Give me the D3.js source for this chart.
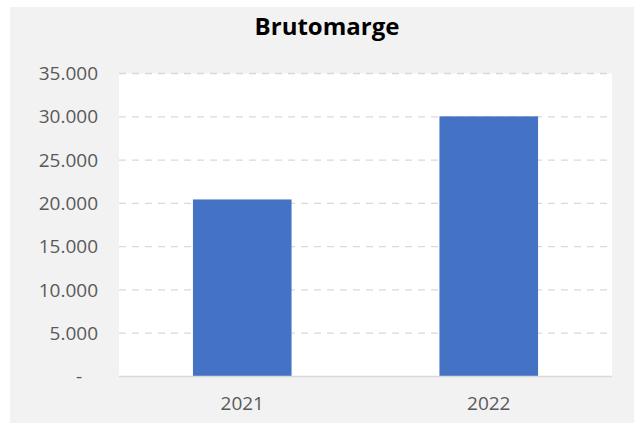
<!DOCTYPE html>
<meta charset="utf-8" />
<script src="https://d3js.org/d3.v7.min.js"></script>
<style>
  body { margin: 0; background: #fff; }
  text { font-family: "Open Sans", sans-serif; }
</style>
<div id="chart"></div>
<script>
  // data
  const years = ["2021", "2022"];
  const brutomarge = [20450, 30050];
  const yTicks = [0, 5000, 10000, 15000, 20000, 25000, 30000, 35000];

  const W = 644, H = 423;
  const plot = { left: 119, right: 612, top: 73.5, bottom: 376.5 };

  const svg = d3.select("#chart").append("svg")
    .attr("width", W).attr("height", H);

  // grey chart area
  svg.append("rect")
    .attr("x", 10).attr("y", 7)
    .attr("width", 624).attr("height", 416)
    .attr("fill", "#f2f2f2");

  // white plot area
  svg.append("rect")
    .attr("x", plot.left).attr("y", plot.top)
    .attr("width", plot.right - plot.left).attr("height", plot.bottom - plot.top)
    .attr("fill", "#fff");

  var x = d3.scaleBand()
    .domain(years)
    .range([plot.left, plot.right])
    .paddingInner(0.6)
    .paddingOuter(0.3);

  var y = d3.scaleLinear()
    .domain([0, 35000])
    .range([plot.bottom, plot.top]);

  const fmt = d3.formatLocale({ decimal: ",", thousands: ".", grouping: [3], currency: ["€", ""] }).format(",.0f");

  // gridlines
  svg.append("g")
    .selectAll("line")
    .data(yTicks.filter(d => d > 0))
    .enter().append("line")
    .attr("x1", plot.left).attr("x2", plot.right)
    .attr("y1", d => y(d)).attr("y2", d => y(d))
    .attr("stroke", "#d9d9d9")
    .attr("stroke-width", 1.3)
    .attr("stroke-dasharray", "7,6");

  // bars
  svg.append("g")
    .selectAll("rect")
    .data(years)
    .enter().append("rect")
    .attr("x", d => x(d))
    .attr("width", x.bandwidth())
    .attr("y", (d, i) => y(brutomarge[i]))
    .attr("height", (d, i) => y(0) - y(brutomarge[i]))
    .attr("fill", "#4472c4");

  // baseline
  svg.append("line")
    .attr("x1", plot.left).attr("x2", plot.right)
    .attr("y1", y(0)).attr("y2", y(0))
    .attr("stroke", "#d9d9d9").attr("stroke-width", 1.5);

  // y axis labels
  var yAxis = d3.axisLeft(y)
    .tickValues(yTicks)
    .tickSize(0)
    .tickPadding(0)
    .tickFormat(d => d === 0 ? "-" : fmt(d));

  var gy = svg.append("g")
    .attr("transform", "translate(98,0)")
    .call(yAxis);
  gy.select(".domain").remove();
  gy.selectAll("text")
    .attr("fill", "#595959")
    .style("font-size", "19px")
    .style("font-family", "'Open Sans', sans-serif");
  gy.selectAll(".tick").filter(d => d === 0).select("text").attr("dx", "-16");

  // x axis labels
  var xAxis = d3.axisBottom(x).tickSize(0).tickPadding(0);
  var gx = svg.append("g")
    .attr("transform", "translate(0,396)")
    .call(xAxis);
  gx.select(".domain").remove();
  gx.selectAll("text")
    .attr("fill", "#595959")
    .style("font-size", "19px")
    .style("font-family", "'Open Sans', sans-serif");

  // title
  svg.append("text")
    .attr("x", 327).attr("y", 35)
    .attr("text-anchor", "middle")
    .style("font-size", "24px")
    .style("font-weight", "bold")
    .attr("fill", "#000")
    .text("Brutomarge");
</script>
